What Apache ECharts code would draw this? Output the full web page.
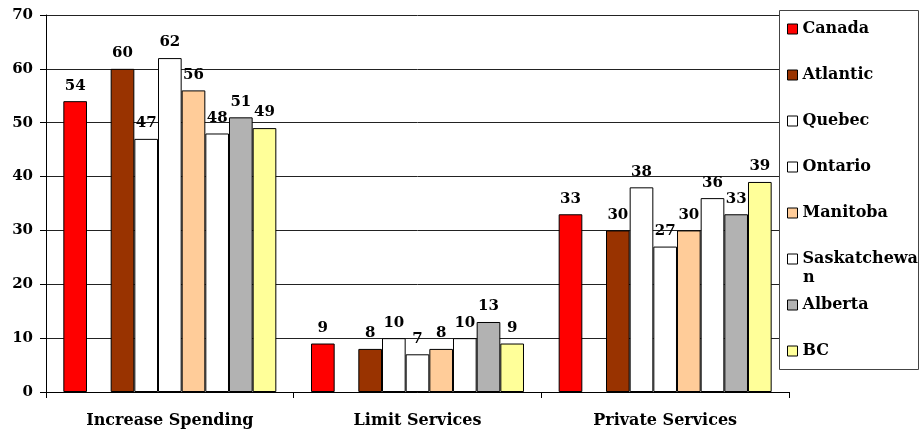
<!DOCTYPE html>
<html>
<head>
<meta charset="utf-8">
<script src="https://cdn.jsdelivr.net/npm/echarts@6/dist/echarts.min.js"></script>
<style>
  html, body { margin: 0; padding: 0; background: #fff; }
  #main { width: 920px; height: 437px; }
</style>
</head>
<body>
<div id="main"></div>
<script>
// categories on the x axis
var categories = ['Increase Spending', 'Limit Services', 'Private Services'];
// regions (legend order)
var regions = ['Canada', 'Atlantic', 'Quebec', 'Ontario', 'Manitoba', 'Saskatchewan', 'Alberta', 'BC'];
// values per region
var canada = [54, 9, 33];
var atlantic = [60, 8, 30];
var quebec = [47, 10, 38];
var ontario = [62, 7, 27];
var manitoba = [56, 8, 30];
var saskatchewan = [48, 10, 36];
var alberta = [51, 13, 33];
var bc = [49, 9, 39];
var yTicks = [0, 10, 20, 30, 40, 50, 60, 70];

var colors = {
  Canada: '#ff0000',
  Atlantic: '#993300',
  Quebec: '#ffffff',
  Ontario: '#ffffff',
  Manitoba: '#ffcc99',
  Saskatchewan: '#ffffff',
  Alberta: '#b2b2b2',
  BC: '#ffff99'
};
var values = [canada, atlantic, quebec, ontario, manitoba, saskatchewan, alberta, bc];

var font = 'DejaVu Serif';
var myChart = echarts.init(document.getElementById('main'));

var series = [];
regions.forEach(function (name, i) {
  series.push({
    name: name,
    type: 'bar',
    data: values[i],
    barGap: 0,
    barCategoryGap: '14%',
    itemStyle: { color: colors[name], borderColor: '#000', borderWidth: 1 },
    label: {
      show: true,
      position: 'top',
      distance: 8,
      color: '#000',
      fontFamily: font,
      fontWeight: 'bold',
      fontSize: 15
    }
  });
  // empty slot after Canada, as in the original
  if (i == 0) {
    series.push({ name: 'gap', type: 'bar', data: ['-', '-', '-'], barGap: 0, barCategoryGap: '14%' });
  }
});

var option = {
  backgroundColor: '#fff',
  animation: false,
  grid: { left: 46, right: 131, top: 15, bottom: 45 },
  xAxis: {
    type: 'category',
    data: categories,
    axisLine: { lineStyle: { color: '#000', width: 1 } },
    axisTick: { show: true, length: 6, lineStyle: { color: '#000' } },
    axisLabel: { color: '#000', fontFamily: font, fontWeight: 'bold', fontSize: 16, margin: 21 }
  },
  yAxis: {
    type: 'value',
    min: yTicks[0],
    max: yTicks[yTicks.length - 1],
    interval: 10,
    axisLine: { show: true, lineStyle: { color: '#000', width: 1 } },
    axisTick: { show: true, length: 6, lineStyle: { color: '#000' } },
    axisLabel: { color: '#000', fontFamily: font, fontWeight: 'bold', fontSize: 15, margin: 13 },
    splitLine: { show: true, lineStyle: { color: '#222', width: 1 } }
  },
  legend: {
    orient: 'vertical',
    left: 782,
    top: 14,
    data: regions,
    icon: 'rect',
    itemWidth: 10,
    itemHeight: 10,
    itemGap: 26,
    itemStyle: { borderColor: '#000', borderWidth: 1 },
    selectedMode: false,
    formatter: function (name) {
      return name == 'Saskatchewan' ? 'Saskatchewa' : name;
    },
    textStyle: { color: '#000', fontFamily: font, fontWeight: 'bold', fontSize: 16, lineHeight: 20 }
  },
  graphic: [
    {
      type: 'rect',
      z: 3,
      shape: { x: 779.5, y: 10.5, width: 139, height: 359 },
      style: { fill: '#fff', stroke: '#444', lineWidth: 1 }
    },
    {
      type: 'text',
      z: 5,
      x: 803,
      y: 270,
      style: { text: 'n', fill: '#000', font: 'bold 16px "DejaVu Serif"' }
    }
  ],
  series: series
};
myChart.setOption(option);
</script>
</body>
</html>
